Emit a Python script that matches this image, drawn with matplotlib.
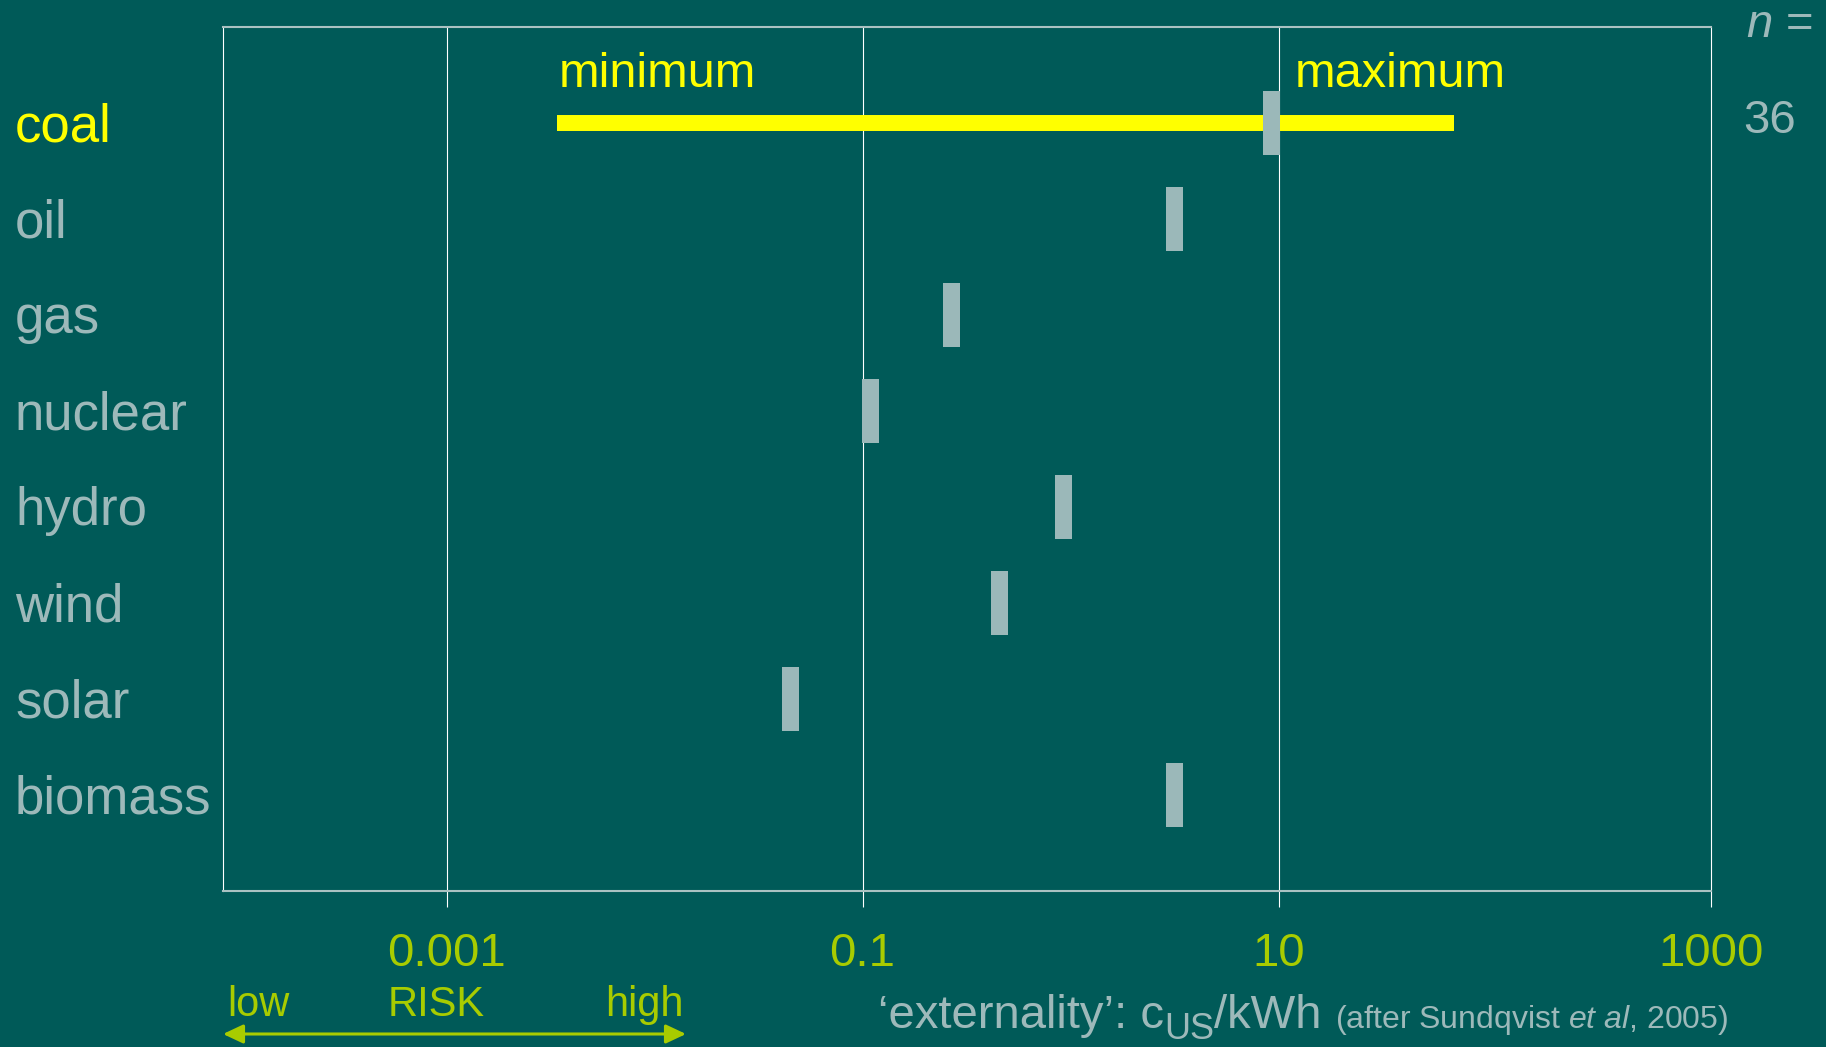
import matplotlib
matplotlib.use("Agg")
import matplotlib.pyplot as plt
from matplotlib.path import Path
from matplotlib.patches import ArrowStyle

# ---- data -------------------------------------------------------------
sources = ["coal", "oil", "gas", "nuclear", "hydro", "wind", "solar", "biomass"]
median_cost = [9.2, 3.16, 0.265, 0.109, 0.916, 0.451, 0.045, 3.16]   # US cents / kWh
coal_range = [0.0034, 70.0]                                           # minimum, maximum
n_studies = "36"
tick_values = [1e-3, 1e-1, 1e1]
tick_labels = ["0.001", "0.1", "10", "1000"]

# ---- style ------------------------------------------------------------
BG = "#005a58"
GREY = "#9db9ba"
MARK = "#9bb8b9"
YELLOW = "#ffff00"
GREEN = "#a8cc00"
FONT = "Liberation Sans"

plt.rcParams["font.family"] = [FONT, "DejaVu Sans"]
plt.rcParams["mathtext.fontset"] = "custom"
plt.rcParams["mathtext.rm"] = FONT
plt.rcParams["mathtext.it"] = FONT + ":italic"

W, H = 1826, 1047
DPI = 100
fig = plt.figure(figsize=(W / DPI, H / DPI), dpi=DPI, facecolor=BG)

left, right, top, bottom = 222.5, 1711, 27, 891
ax = fig.add_axes([left / W, 1 - bottom / H, (right - left) / W, (bottom - top) / H])
ax.set_facecolor(BG)
ax.set_xscale("log")
x_lo, x_hi = 10 ** -4.077, 10 ** 3.079
ax.set_xlim(x_lo, x_hi)
ax.set_ylim(len(sources), -1)

def fpx(x, y):
    """figure-pixel position measured from the top-left corner"""
    return x / W, 1 - y / H

# grid lines
for v in tick_values:
    ax.axvline(v, color="white", lw=0.8, zorder=1)

# frame
for side in ("top", "bottom"):
    ax.spines[side].set_color("#aac2c2")
    ax.spines[side].set_linewidth(1.5)
for side in ("left", "right"):
    ax.spines[side].set_color("white")
    ax.spines[side].set_linewidth(0.8)

# x ticks
ax.set_xticks(tick_values + [x_hi])
ax.set_xticklabels(tick_labels)
ax.xaxis.set_minor_locator(matplotlib.ticker.NullLocator())
ax.tick_params(axis="x", direction="out", length=11.5, width=0.8, color="white",
               labelcolor=GREEN, labelsize=34, pad=18)
ax.set_yticks([])

# coal range bar
rows = list(range(len(sources)))
ax.hlines(rows[0], coal_range[0], coal_range[1], color=YELLOW, lw=11.5,
          capstyle="butt", zorder=2)

# median markers (narrow vertical blocks)
bar_marker = Path([(-8.5, -32), (8.5, -32), (8.5, 32), (-8.5, 32), (-8.5, -32)],
                  [Path.MOVETO, Path.LINETO, Path.LINETO, Path.LINETO, Path.CLOSEPOLY])
ax.plot(median_cost, rows, linestyle="none", marker=bar_marker,
        markersize=64 * 72 / DPI, markerfacecolor=MARK, markeredgewidth=0, zorder=3)

# source names
for i, name in enumerate(sources):
    ax.annotate(name, xy=(15, i), xycoords=("figure pixels", "data"),
                xytext=(0, -18), textcoords="offset pixels", va="baseline", ha="left",
                fontsize=38, color=YELLOW if i == 0 else GREY, annotation_clip=False)

# annotations above the coal bar
fig.text(*fpx(559, 87), "minimum", color=YELLOW, fontsize=35, va="baseline")
fig.text(*fpx(1295, 87), "maximum", color=YELLOW, fontsize=35, va="baseline")
fig.text(*fpx(1746, 37), r"$n$ =", color=GREY, fontsize=34, va="baseline")
fig.text(*fpx(1743, 133), n_studies, color=GREY, fontsize=34, va="baseline")

# risk scale
fig.text(*fpx(227, 1016), "low", color=GREEN, fontsize=30, va="baseline")
fig.text(*fpx(436, 1016), "RISK", color=GREEN, fontsize=30, va="baseline", ha="center")
fig.text(*fpx(684, 1016), "high", color=GREEN, fontsize=30, va="baseline", ha="right")
ax.annotate("", xy=(223, H - 1034), xytext=(686, H - 1034), xycoords="figure pixels",
            textcoords="figure pixels",
            arrowprops=dict(arrowstyle=ArrowStyle("<|-|>", head_length=1.0, head_width=0.47),
                            mutation_scale=12.2, color=GREEN, lw=2.2,
                            shrinkA=0, shrinkB=0))

# axis title, built piece by piece so the subscript sits low
renderer = fig.canvas.get_renderer()
base_y = 1028
t1 = fig.text(*fpx(878, base_y), "‘externality’: c", color=GREY, fontsize=34,
              va="baseline")
x_end = t1.get_window_extent(renderer).x1
t2 = fig.text(x_end / W, 1 - (base_y + 11) / H, "US", color=GREY, fontsize=26,
              va="baseline")
x_end = t2.get_window_extent(renderer).x1
t3 = fig.text(x_end / W, 1 - base_y / H, "/kWh", color=GREY, fontsize=34,
              va="baseline")
x_end = t3.get_window_extent(renderer).x1
fig.text((x_end + 13) / W, 1 - base_y / H, r"(after Sundqvist $\mathit{et\ al}$, 2005)",
         color=GREY, fontsize=23, va="baseline")

fig.savefig("out.png", dpi=DPI, facecolor=BG)
